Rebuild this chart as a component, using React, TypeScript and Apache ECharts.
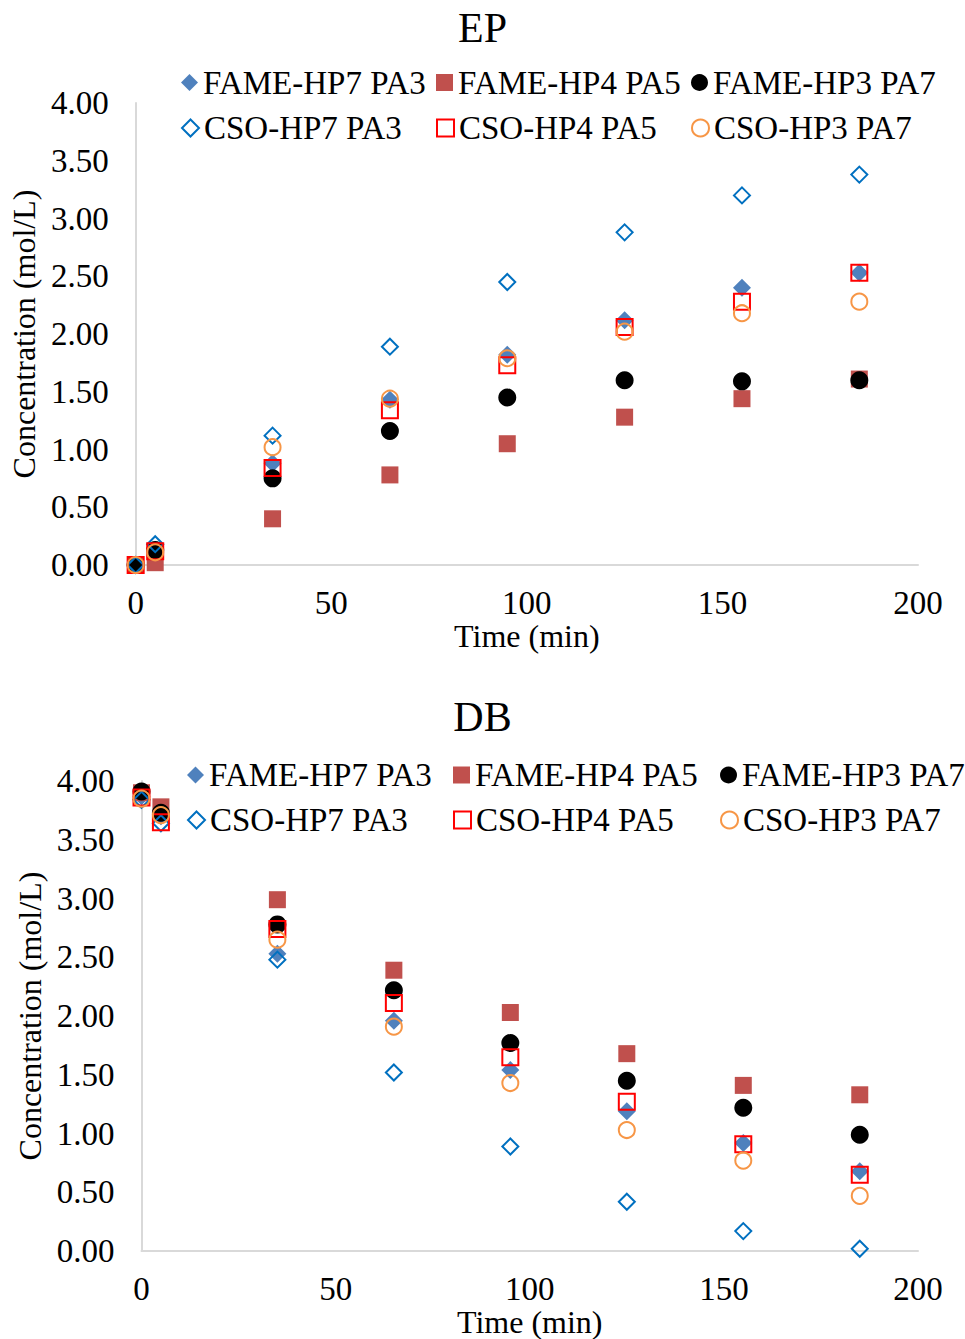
import React, { useEffect, useRef } from "react";
import * as echarts from "echarts";

const timeMin = [0, 5, 35, 65, 95, 125, 155, 185];
const seriesNames = ["FAME-HP7 PA3", "FAME-HP4 PA5", "FAME-HP3 PA7", "CSO-HP7 PA3", "CSO-HP4 PA5", "CSO-HP3 PA7"];
const chartTitles = ["EP", "DB"];

// EP concentrations (mol/L)
const epFameHP7PA3 = [0, 0.12, 0.88, 1.43, 1.82, 2.12, 2.40, 2.53];
const epFameHP4PA5 = [0, 0.02, 0.40, 0.78, 1.05, 1.28, 1.44, 1.61];
const epFameHP3PA7 = [0, 0.13, 0.75, 1.16, 1.45, 1.60, 1.59, 1.60];
const epCsoHP7PA3 = [0, 0.18, 1.12, 1.89, 2.45, 2.88, 3.20, 3.38];
const epCsoHP4PA5 = [0, 0.12, 0.84, 1.34, 1.73, 2.06, 2.28, 2.53];
const epCsoHP3PA7 = [0, 0.11, 1.02, 1.44, 1.79, 2.02, 2.18, 2.28];

// DB concentrations (mol/L)
const dbFameHP7PA3 = [3.87, 3.70, 2.53, 1.96, 1.54, 1.19, 0.92, 0.68];
const dbFameHP4PA5 = [3.90, 3.78, 2.99, 2.39, 2.03, 1.68, 1.41, 1.33];
const dbFameHP3PA7 = [3.91, 3.73, 2.78, 2.22, 1.77, 1.45, 1.22, 0.99];
const dbCsoHP7PA3 = [3.84, 3.64, 2.48, 1.52, 0.89, 0.42, 0.17, 0.02];
const dbCsoHP4PA5 = [3.86, 3.65, 2.74, 2.11, 1.65, 1.27, 0.91, 0.65];
const dbCsoHP3PA7 = [3.85, 3.71, 2.65, 1.91, 1.43, 1.03, 0.77, 0.47];

const epValues = [epFameHP7PA3, epFameHP4PA5, epFameHP3PA7, epCsoHP7PA3, epCsoHP4PA5, epCsoHP3PA7];
const dbValues = [dbFameHP7PA3, dbFameHP4PA5, dbFameHP3PA7, dbCsoHP7PA3, dbCsoHP4PA5, dbCsoHP3PA7];

const FONT = "'Liberation Serif', 'Times New Roman', serif";
const FS = 33;
const NAME_FS = 32;

const markerStyles = [
  { symbol: "diamond", size: 18, fill: "#4F81BD", stroke: null },
  { symbol: "rect", size: 17, fill: "#C0504D", stroke: null },
  { symbol: "circle", size: 18, fill: "#000000", stroke: null },
  { symbol: "diamond", size: 16, fill: "rgba(255,255,255,0)", stroke: "#0070C0" },
  { symbol: "rect", size: 16, fill: "rgba(255,255,255,0)", stroke: "#FF0000" },
  { symbol: "circle", size: 16, fill: "rgba(255,255,255,0)", stroke: "#F79646" },
];

const layouts = [
  {
    grid: { left: 134, top: 103, width: 784, height: 462 },
    titleTop: 7,
    legendLefts: [181, 436, 691],
    legendTops: [66, 111.5],
    yNameGap: 93,
  },
  {
    grid: { left: 141.5, top: 781, width: 776.5, height: 473 },
    titleTop: 696,
    legendLefts: [187, 453, 720],
    legendTops: [758.5, 803.5],
    yNameGap: 92,
  },
];

export default function App() {
  const ref = useRef<HTMLDivElement>(null);

  useEffect(() => {
    if (!ref.current) return;
    const chart = echarts.init(ref.current, undefined, { renderer: "svg" });

    const allValues = [epValues, dbValues];
    const title: any[] = [];
    const legend: any[] = [];
    const grid: any[] = [];
    const xAxis: any[] = [];
    const yAxis: any[] = [];
    const series: any[] = [];

    layouts.forEach((lay, ci) => {
      title.push({
        text: chartTitles[ci],
        left: "center",
        top: lay.titleTop,
        padding: 0,
        textStyle: { fontFamily: FONT, fontSize: 42, fontWeight: "normal", color: "#000", lineHeight: 42 },
      });
      seriesNames.forEach((name, si) => {
        legend.push({
          data: [name],
          left: lay.legendLefts[si % 3],
          top: lay.legendTops[Math.floor(si / 3)],
          padding: 0,
          itemWidth: 17,
          itemHeight: 17,
          selectedMode: false,
          textStyle: { fontFamily: FONT, fontSize: FS, color: "#000", lineHeight: FS },
        });
      });
      grid.push({ ...lay.grid, containLabel: false });
      xAxis.push({
        type: "value",
        gridIndex: ci,
        min: 0,
        max: 200,
        interval: 50,
        name: "Time (min)",
        nameLocation: "middle",
        nameGap: 52,
        nameTextStyle: { fontFamily: FONT, fontSize: NAME_FS, color: "#000", lineHeight: NAME_FS },
        axisLine: { show: true, lineStyle: { color: "#D9D9D9", width: 2 } },
        axisTick: { show: false },
        splitLine: { show: false },
        axisLabel: { fontFamily: FONT, fontSize: FS, color: "#000", margin: 21, lineHeight: FS },
      });
      yAxis.push({
        type: "value",
        gridIndex: ci,
        min: 0,
        max: 4,
        interval: 0.5,
        name: "Concentration (mol/L)",
        nameLocation: "middle",
        nameGap: lay.yNameGap,
        nameTextStyle: { fontFamily: FONT, fontSize: NAME_FS, color: "#000", lineHeight: NAME_FS },
        axisLine: { show: true, lineStyle: { color: "#D9D9D9", width: 2 } },
        axisTick: { show: false },
        splitLine: { show: false },
        axisLabel: {
          fontFamily: FONT,
          fontSize: FS,
          color: "#000",
          margin: 27,
          formatter: (v: number) => v.toFixed(2),
        },
      });
      allValues[ci].forEach((vals, si) => {
        const m = markerStyles[si];
        series.push({
          type: "scatter",
          name: seriesNames[si],
          xAxisIndex: ci,
          yAxisIndex: ci,
          symbol: m.symbol,
          symbolSize: m.size,
          itemStyle: m.stroke
            ? { color: m.fill, borderColor: m.stroke, borderWidth: 2, opacity: 1 }
            : { color: m.fill, opacity: 1 },
          emphasis: { disabled: true },
          data: timeMin.map((t, i) => [t, vals[i]]),
        });
      });
    });

    chart.setOption({
      animation: false,
      backgroundColor: "#ffffff",
      textStyle: { fontFamily: FONT },
      title,
      legend,
      grid,
      xAxis,
      yAxis,
      series,
    });

    return () => chart.dispose();
  }, []);

  return (
    <div
      ref={ref}
      style={{ position: "absolute", left: 0, top: 0, width: 965, height: 1339 }}
    />
  );
}
